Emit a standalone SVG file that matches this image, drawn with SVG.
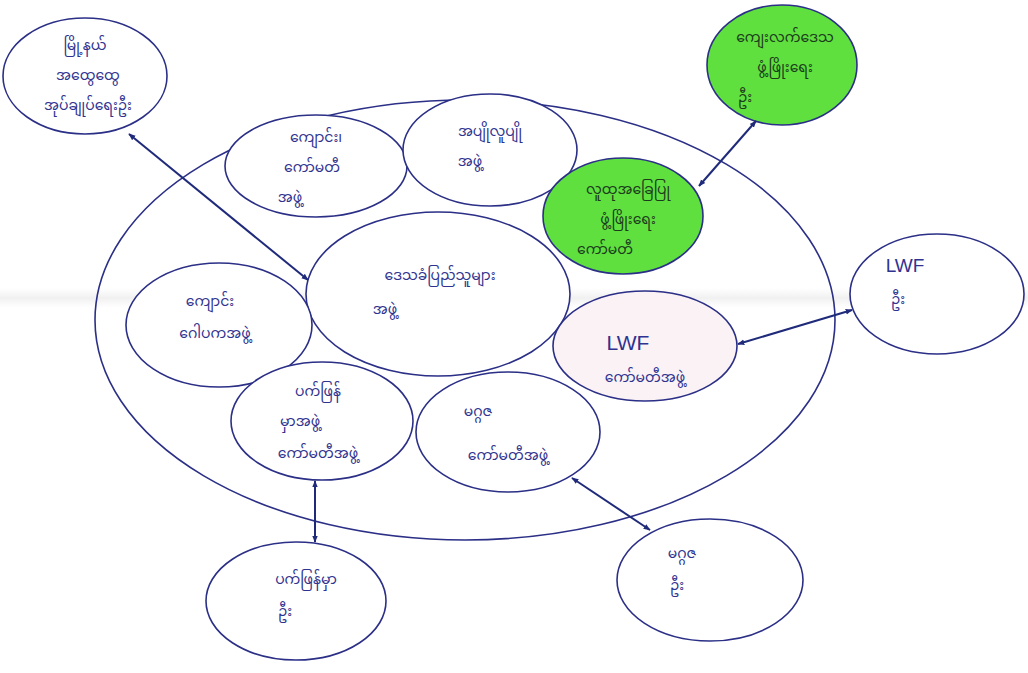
<svg xmlns="http://www.w3.org/2000/svg" width="1028" height="673" viewBox="0 0 1028 673">
<defs>
<style>
.n{fill:#ffffff;stroke:#2b2f86;stroke-width:1.6}
.g{fill:#5fe03f;stroke:#2b2f86;stroke-width:1.6}
.p{fill:#fbf2f6;stroke:#2b2f86;stroke-width:1.6}
.t{font-family:"Noto Sans Myanmar","Padauk","Myanmar Text","Noto Sans",sans-serif;font-size:14px;fill:#2f3390;text-anchor:middle}
.l{font-family:"Liberation Sans",sans-serif}
.tg{fill:#1c3a1c}
.c{stroke:#1f2a7a;stroke-width:2;fill:none;marker-start:url(#a);marker-end:url(#a)}
</style>
<linearGradient id="band" x1="0" y1="0" x2="0" y2="1">
<stop offset="0" stop-color="#e6e6e6" stop-opacity="0"/>
<stop offset="0.5" stop-color="#e2e2e2" stop-opacity="0.5"/>
<stop offset="1" stop-color="#e6e6e6" stop-opacity="0"/>
</linearGradient>
<marker id="a" viewBox="0 0 10 10" refX="9" refY="5" markerWidth="7" markerHeight="7" orient="auto-start-reverse" markerUnits="userSpaceOnUse">
<path d="M0,1 L10,5 L0,9 z" fill="#1f2a7a"/>
</marker>
</defs>
<rect width="1028" height="673" fill="#ffffff"/>
<rect x="0" y="288" width="1028" height="20" fill="url(#band)"/>
<g id="outer">
<ellipse cx="465" cy="320" rx="370" ry="220" fill="none" stroke="#2b2f86" stroke-width="1.6"/>
</g>
<g id="n-township">
<ellipse class="n" cx="85" cy="76" rx="82" ry="58"/>
<text class="t"><tspan x="85" y="50">မြို့နယ်</tspan><tspan x="88" y="80">အထွေထွေ</tspan><tspan x="88" y="110">အုပ်ချုပ်ရေးဦး</tspan></text>
</g>
<g id="n-dept">
<ellipse class="g" cx="782" cy="65" rx="75" ry="60"/>
<text class="t tg"><tspan x="785" y="42">ကျေးလက်ဒေသ</tspan><tspan x="785" y="72">ဖွံ့ဖြိုးရေး</tspan><tspan x="745" y="102">ဦး</tspan></text>
</g>
<g id="n-school">
<ellipse class="n" cx="316" cy="166" rx="91" ry="51"/>
<text class="t"><tspan x="316" y="142">ကျောင်း၊</tspan><tspan x="312" y="172">ကော်မတီ</tspan><tspan x="290" y="202">အဖွဲ့</tspan></text>
</g>
<g id="n-youth">
<ellipse class="n" cx="490" cy="150" rx="87" ry="56"/>
<text class="t"><tspan x="490" y="136">အပျိုလူပျို</tspan><tspan x="470" y="166">အဖွဲ့</tspan></text>
</g>
<g id="n-vdc">
<ellipse class="g" cx="623" cy="216" rx="80" ry="58"/>
<text class="t tg"><tspan x="628" y="194">လူထုအခြေပြု</tspan><tspan x="628" y="224">ဖွံ့ဖြိုးရေး</tspan><tspan x="605" y="254">ကော်မတီ</tspan></text>
</g>
<g id="n-center">
<ellipse class="n" cx="438" cy="294" rx="132" ry="82"/>
<text class="t"><tspan x="440" y="280">ဒေသခံပြည်သူများ</tspan><tspan x="385" y="314">အဖွဲ့</tspan></text>
</g>
<g id="n-trustee">
<ellipse class="n" cx="219" cy="325" rx="93" ry="62"/>
<text class="t"><tspan x="210" y="306">ကျောင်း</tspan><tspan x="215" y="338">ဂေါပကအဖွဲ့</tspan></text>
</g>
<g id="n-lwf">
<ellipse class="p" cx="645" cy="346" rx="92" ry="55"/>
<text class="t"><tspan class="l" x="628" y="350" style="font-size:21px">LWF</tspan><tspan x="645" y="382">ကော်မတီအဖွဲ့</tspan></text>
</g>
<g id="n-lwf-out">
<ellipse class="n" cx="937" cy="294" rx="87" ry="60"/>
<text class="t"><tspan class="l" x="905" y="272" style="font-size:19px">LWF</tspan><tspan x="898" y="304">ဦး</tspan></text>
</g>
<g id="n-pk">
<ellipse class="n" cx="322" cy="421" rx="91" ry="59"/>
<text class="t"><tspan x="318" y="396">ပက်ဖြန်</tspan><tspan x="300" y="426">မှာအဖွဲ့</tspan><tspan x="318" y="458">ကော်မတီအဖွဲ့</tspan></text>
</g>
<g id="n-mg">
<ellipse class="n" cx="508" cy="432" rx="92" ry="60"/>
<text class="t"><tspan x="478" y="416">မဂ္ဂဇ</tspan><tspan x="508" y="460">ကော်မတီအဖွဲ့</tspan></text>
</g>
<g id="n-pk-out">
<ellipse class="n" cx="296" cy="601" rx="90" ry="59"/>
<text class="t"><tspan x="306" y="584">ပက်ဖြန်မှာ</tspan><tspan x="285" y="616">ဦး</tspan></text>
</g>
<g id="n-mg-out">
<ellipse class="n" cx="710" cy="580" rx="93" ry="61"/>
<text class="t"><tspan x="682" y="558">မဂ္ဂဇ</tspan><tspan x="677" y="590">ဦး</tspan></text>
</g>
<g id="connectors">
<line class="c" x1="129" y1="134" x2="308" y2="280"/>
<line class="c" x1="756" y1="121" x2="699" y2="186"/>
<line class="c" x1="738" y1="344" x2="852" y2="310"/>
<line class="c" x1="315" y1="481" x2="315" y2="542"/>
<line class="c" x1="572" y1="478" x2="650" y2="530"/>
</g>
</svg>
